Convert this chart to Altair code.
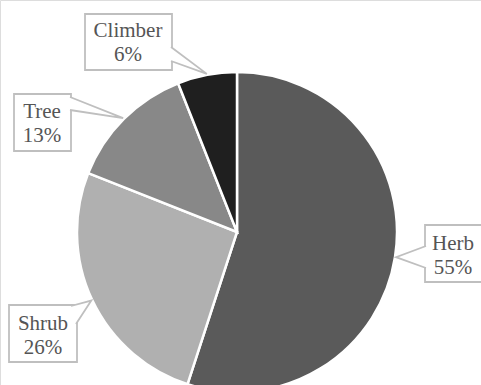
import altair as alt
import numpy as np
import pandas as pd

# ---- data ----
categories = ["Herb", "Shrub", "Tree", "Climber"]
values = [55, 26, 13, 6]
pct_labels = ["55%", "26%", "13%", "6%"]

# ---- style / layout ----
colors = ["#5a5a5a", "#b0b0b0", "#888888", "#1f1f1f"]
CX, CY, R = 237, 232, 160
# callout boxes (x0, x1, y0, y1) in pixels
box_x0 = [425, 9, 14, 85]
box_x1 = [484, 77, 71, 172]
box_y0 = [225, 305, 94, 14]
box_y1 = [282, 362, 151, 70]
# wedge base points on the box outline
base1 = [(426, 246), (71, 306), (70, 97), (171, 47)]
base2 = [(426, 268), (76, 324), (70, 110), (171, 61)]
text_x = [453, 43, 42, 128]
line1_y = [250, 330, 118, 37]
line_gap = 24
FONT = "Liberation Serif"

# tip of callout: middle angle of each slice on the pie rim
vals = np.array(values, dtype=float)
frac = vals / vals.sum()
cum = np.cumsum(frac) - frac / 2
ang = cum * 2 * np.pi
tip_x = CX + (R + 1) * np.sin(ang)
tip_y = CY - (R + 1) * np.cos(ang)

pie_df = pd.DataFrame({"cat": categories, "value": values, "idx": range(len(values))})

box_df = pd.DataFrame({"cat": categories, "x0": box_x0, "x1": box_x1, "y0": box_y0, "y1": box_y1})

wedge_rows = []
for i, c in enumerate(categories):
    wedge_rows.append({"cat": c, "o": 0, "x": base1[i][0], "y": base1[i][1]})
    wedge_rows.append({"cat": c, "o": 1, "x": float(tip_x[i]), "y": float(tip_y[i])})
    wedge_rows.append({"cat": c, "o": 2, "x": base2[i][0], "y": base2[i][1]})
wedge_df = pd.DataFrame(wedge_rows)

text_rows = []
for i, c in enumerate(categories):
    text_rows.append({"t": c, "x": text_x[i], "y": line1_y[i]})
    text_rows.append({"t": pct_labels[i], "x": text_x[i], "y": line1_y[i] + line_gap})
text_df = pd.DataFrame(text_rows)

pie = alt.Chart(pie_df).mark_arc(radius=R, stroke="white", strokeWidth=2.5).encode(
    theta=alt.Theta("value:Q", stack=True),
    color=alt.Color("cat:N", scale=alt.Scale(domain=categories, range=colors), legend=None),
    order=alt.Order("idx:Q"),
    x=alt.value(CX),
    y=alt.value(CY),
)

boxes = alt.Chart(box_df).mark_rect(fill="white", stroke="#bfbfbf", strokeWidth=1.8).encode(
    x=alt.X("x0:Q", scale=None), x2="x1:Q",
    y=alt.Y("y0:Q", scale=None), y2="y1:Q",
)

wedges = alt.Chart(wedge_df).mark_line(fill="white", stroke="#bfbfbf", strokeWidth=1.8).encode(
    x=alt.X("x:Q", scale=None),
    y=alt.Y("y:Q", scale=None),
    detail="cat:N",
    order=alt.Order("o:Q"),
)

texts = alt.Chart(text_df).mark_text(
    font=FONT, fontSize=21, color="#555555", align="center", baseline="alphabetic"
).encode(
    x=alt.X("x:Q", scale=None),
    y=alt.Y("y:Q", scale=None),
    text="t:N",
)

chart = alt.layer(pie, boxes, wedges, texts).properties(
    width=481, height=385, padding=0, autosize=alt.AutoSizeParams(type="none")
).configure_view(stroke=None).configure(background="white")

chart.save("out.html", embed_options={"renderer": "svg", "actions": False})
